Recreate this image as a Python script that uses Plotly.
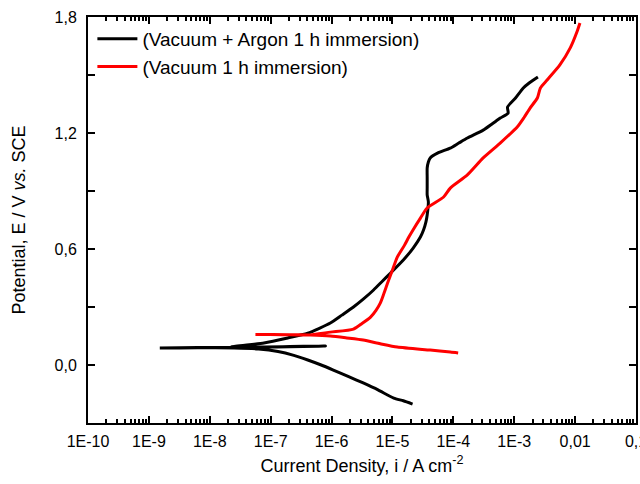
import plotly.graph_objects as go

# Vacuum + Argon 1 h immersion (black): potential (V vs SCE) and |i| (A cm^-2)
black_E = [-0.202, -0.185, -0.171, -0.130, -0.093, -0.060, -0.026, 0.000, 0.026, 0.050,
           0.070, 0.083, 0.088, 0.089, 0.088,
           0.090, 0.092, 0.095, 0.098,
           0.093, 0.114, 0.140, 0.165, 0.190, 0.217, 0.258, 0.300, 0.343, 0.388,
           0.432, 0.476, 0.543, 0.605, 0.662, 0.698, 0.740, 0.776, 0.843, 0.880,
           0.915, 0.970, 1.019, 1.050, 1.071, 1.096, 1.122, 1.148, 1.174, 1.215,
           1.248, 1.277, 1.303, 1.334, 1.381, 1.433, 1.460, 1.490]
black_i = [2.14e-5, 1.51e-5, 1.05e-5, 5.89e-6, 3.31e-6, 1.91e-6, 1.07e-6, 6.76e-7, 4.07e-7, 2.40e-7,
           1.32e-7, 6.31e-8, 2.51e-8, 6.31e-9, 1.51e-9,
           6.31e-9, 3.98e-8, 1.58e-7, 7.94e-7,
           2.19e-8, 7.76e-8, 1.91e-7, 4.07e-7, 6.31e-7, 9.55e-7, 1.48e-6, 2.29e-6, 3.39e-6, 4.90e-6,
           6.76e-6, 9.33e-6, 1.51e-5, 2.19e-5, 2.88e-5, 3.24e-5, 3.55e-5, 3.72e-5, 3.89e-5, 3.72e-5,
           3.72e-5, 3.72e-5, 3.72e-5, 3.89e-5, 4.17e-5, 5.50e-5, 8.91e-5, 1.23e-4, 1.70e-4, 3.09e-4,
           4.37e-4, 5.89e-4, 7.94e-4, 7.76e-4, 1.05e-3, 1.41e-3, 1.78e-3, 2.45e-3]

# Vacuum 1 h immersion (red)
red_E = [0.062, 0.067, 0.077, 0.093, 0.110, 0.129, 0.140, 0.150, 0.155, 0.157, 0.158,
         0.157, 0.155, 0.170, 0.186, 0.215, 0.248, 0.283, 0.320, 0.370, 0.424,
         0.491, 0.558, 0.620, 0.662, 0.700, 0.760, 0.812, 0.869, 0.915, 0.983,
         1.071, 1.148, 1.231, 1.280, 1.329, 1.381, 1.433, 1.474, 1.552, 1.640,
         1.722, 1.769]
red_i = [1.20e-4, 8.91e-5, 4.17e-5, 1.20e-5, 6.31e-6, 3.31e-6, 1.78e-6, 9.55e-7, 4.47e-7, 2.0e-7, 5.62e-8,
         1.58e-7, 4.07e-7, 9.55e-7, 2.29e-6, 3.16e-6, 4.37e-6, 5.37e-6, 6.31e-6, 7.24e-6, 8.32e-6,
         1.0e-5, 1.20e-5, 1.58e-5, 1.86e-5, 2.19e-5, 2.88e-5, 3.72e-5, 6.92e-5, 8.91e-5, 1.70e-4,
         3.09e-4, 5.89e-4, 1.12e-3, 1.45e-3, 1.82e-3, 2.40e-3, 2.69e-3, 3.47e-3, 5.62e-3, 8.32e-3,
         1.07e-2, 1.20e-2]

x_tickvals = [1e-10, 1e-9, 1e-8, 1e-7, 1e-6, 1e-5, 1e-4, 1e-3, 1e-2, 1e-1]
x_ticktext = ["1E-10", "1E-9", "1E-8", "1E-7", "1E-6", "1E-5", "1E-4", "1E-3", "0,01", "0,1"]
y_tickvals = [0.0, 0.6, 1.2, 1.8]
y_ticktext = ["0,0", "0,6", "1,2", "1,8"]

series_names = ["(Vacuum + Argon 1 h immersion)", "(Vacuum 1 h immersion)"]

x_minor = [k * 10.0 ** n for n in range(-10, -1) for k in range(2, 10)]
y_minor = [-0.3, 0.3, 0.9, 1.5]

FONT = "Liberation Sans, Arial, sans-serif"

fig = go.Figure()
fig.add_trace(go.Scatter(x=black_i, y=black_E, mode="lines", name=series_names[0],
                         line=dict(color="black", width=3, shape="spline", smoothing=0.6)))
fig.add_trace(go.Scatter(x=red_i, y=red_E, mode="lines", name=series_names[1],
                         line=dict(color="#ff0000", width=3, shape="spline", smoothing=0.6)))

axis_common = dict(showline=True, linecolor="black", linewidth=2, mirror="ticks",
                   ticks="inside", tickcolor="black", tickwidth=2, ticklen=7,
                   showgrid=False, zeroline=False, automargin=False,
                   ticklabeloverflow="allow",
                   tickfont=dict(family=FONT, size=16, color="black"))

fig.update_xaxes(type="log", range=[-10, -1], tickmode="array",
                 tickvals=x_tickvals, ticktext=x_ticktext, ticklabelstandoff=3,
                 minor=dict(tickmode="array", tickvals=x_minor, ticks="inside",
                            ticklen=4, tickwidth=2, tickcolor="black", showgrid=False),
                 title=dict(text="Current Density, i / A cm<sup>-2</sup>",
                            font=dict(family=FONT, size=18, color="black"), standoff=10),
                 **axis_common)
fig.update_yaxes(range=[-0.3, 1.8], tickmode="array",
                 tickvals=y_tickvals, ticktext=y_ticktext, ticklabelstandoff=6,
                 minor=dict(tickmode="array", tickvals=y_minor, ticks="inside",
                            ticklen=7, tickwidth=2, tickcolor="black", showgrid=False),
                 title=dict(text="Potential, E / V <i>vs.</i> SCE",
                            font=dict(family=FONT, size=18, color="black"), standoff=24),
                 **axis_common)

fig.update_layout(
    width=640, height=484,
    margin=dict(l=88, r=4, t=17, b=61),
    plot_bgcolor="white", paper_bgcolor="white",
    font=dict(family=FONT, size=16, color="black"),
    legend=dict(x=0.008, y=0.993, xanchor="left", yanchor="top",
                bgcolor="rgba(0,0,0,0)", borderwidth=0,
                font=dict(family=FONT, size=19, color="black"),
                tracegroupgap=0, itemwidth=40),
    showlegend=True,
)

fig.write_html("out.html", config={"displayModeBar": False},
               post_script="document.body.style.margin='0';document.body.style.overflow='hidden';")
